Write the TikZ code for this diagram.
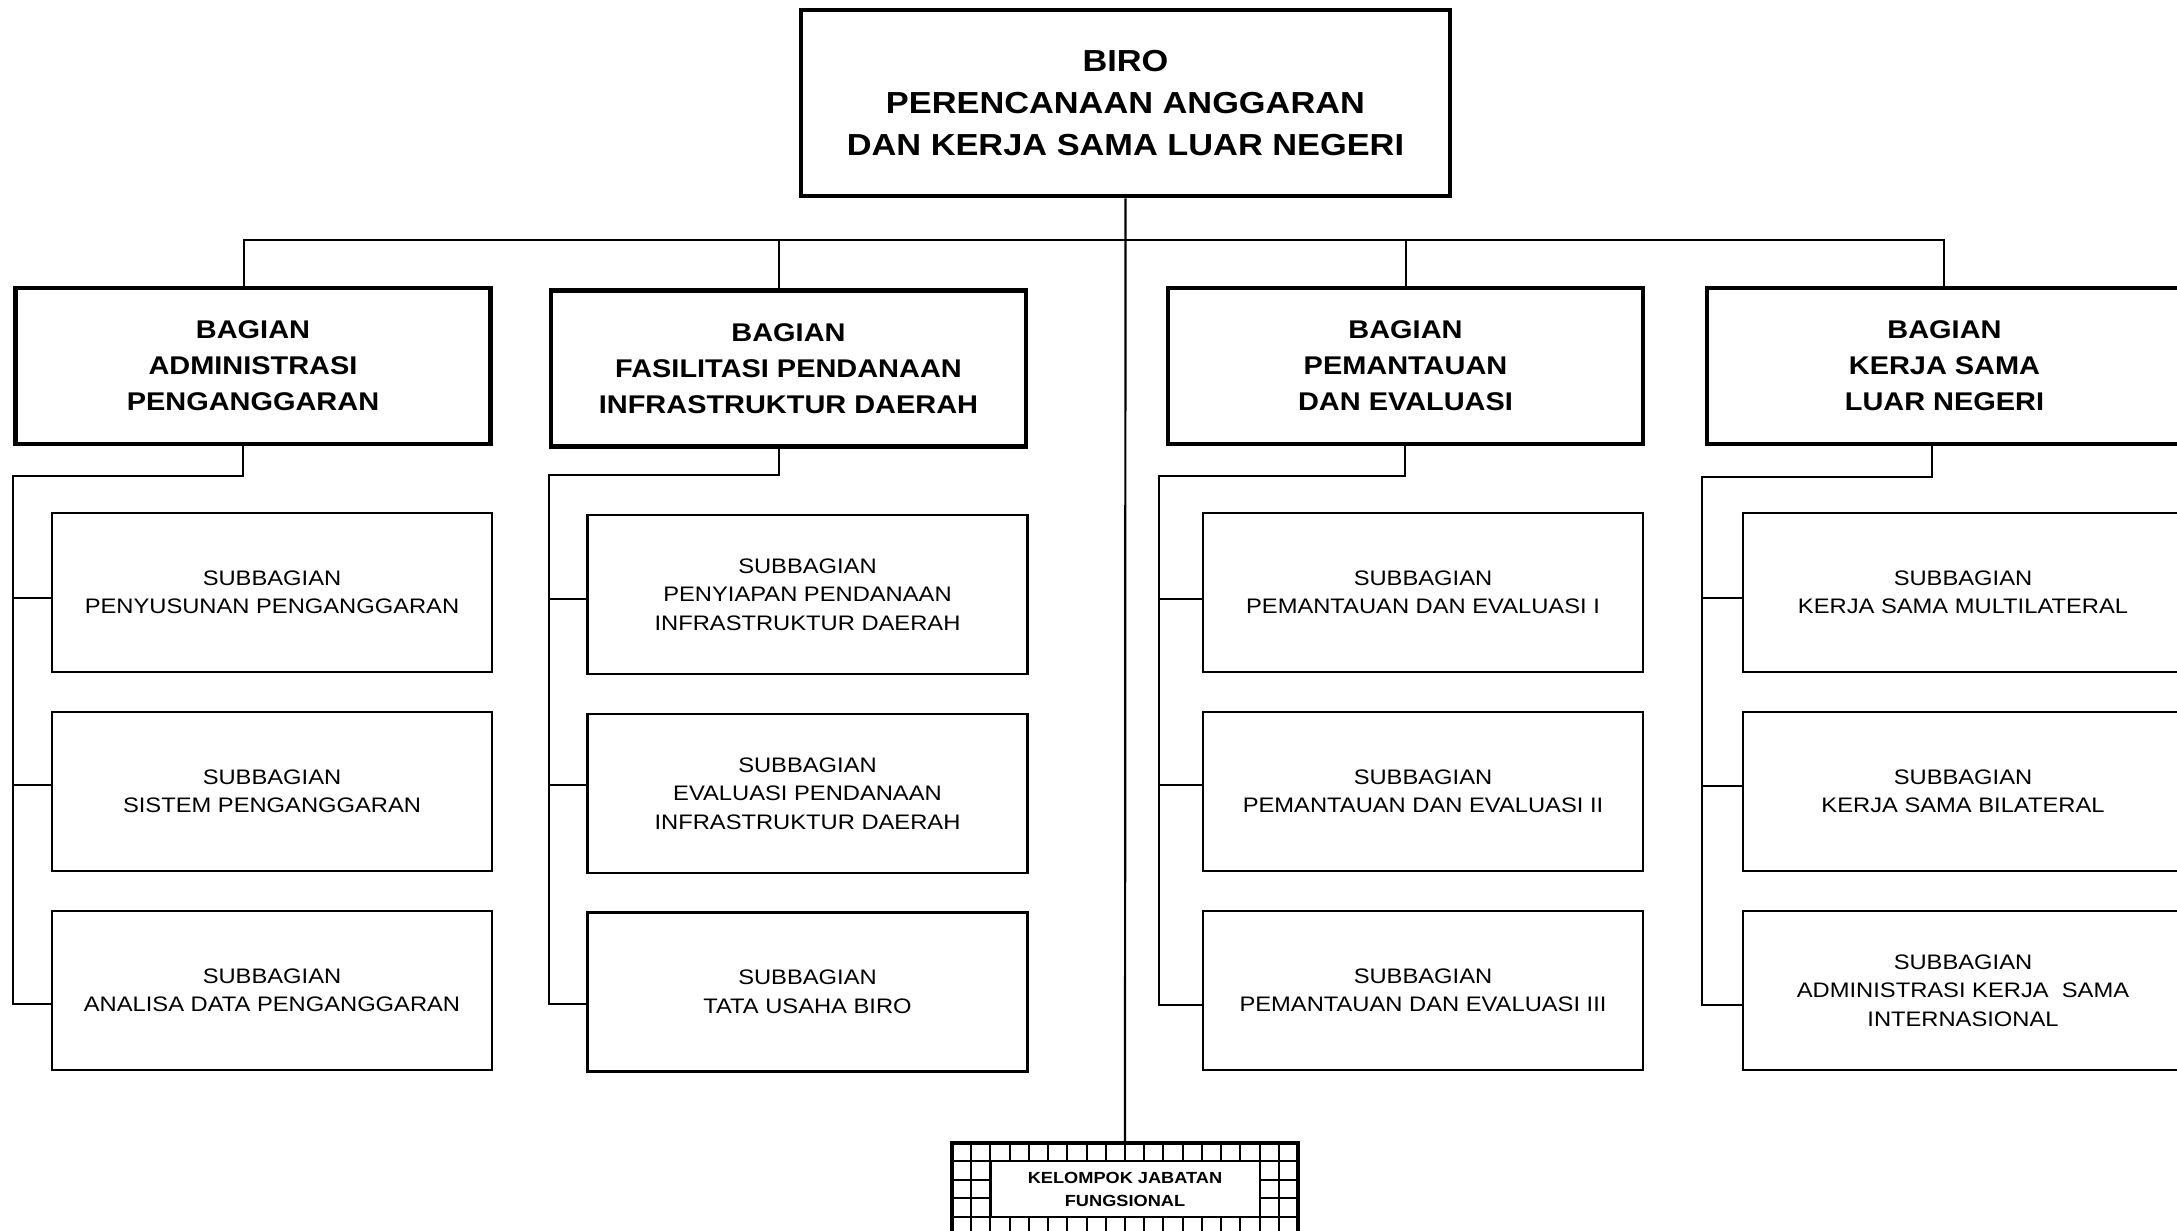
\documentclass[tikz,border=0pt]{standalone}
\usepackage{fontspec}
\setmainfont{Liberation Sans}[FakeStretch=1.13]
\begin{document}
\begin{tikzpicture}[x=1pt,y=-1pt,
  birobox/.style={draw, line width=4.5pt, align=center, inner sep=0pt,
    minimum width=649, minimum height=186,
    font=\fontsize{30.4}{42}\selectfont\bfseries},
  bagbox/.style={draw, line width=4.5pt, align=center, inner sep=0pt,
    minimum width=475, minimum height=156,
    font=\fontsize{25.6}{36}\selectfont\bfseries},
  subbox/.style={draw, line width=2.2pt, align=center, inner sep=0pt,
    minimum width=440, minimum height=159,
    font=\fontsize{21}{28.5}\selectfont},
  link/.style={line width=2.2pt},
  gridline/.style={line width=2pt},
]
\useasboundingbox (0,0) rectangle (2177,1231);
\clip (0,0) rectangle (2177,1231);

% head office
\node[birobox] (biro) at (1125.5,103) {BIRO\\PERENCANAAN ANGGARAN\\DAN KERJA SAMA LUAR NEGERI};

% divisions
\node[bagbox] (b1) at (253,366)    {BAGIAN\\ADMINISTRASI\\PENGANGGARAN};
\node[bagbox] (b2) at (788.5,368.5) {BAGIAN\\FASILITASI PENDANAAN\\INFRASTRUKTUR DAERAH};
\node[bagbox] (b3) at (1405.5,366) {BAGIAN\\PEMANTAUAN\\DAN EVALUASI};
\node[bagbox] (b4) at (1944.5,366) {BAGIAN\\KERJA SAMA\\LUAR NEGERI};

% sub-divisions
\node[subbox] (s11) at (272,592.5) {SUBBAGIAN\\PENYUSUNAN PENGANGGARAN};
\node[subbox] (s12) at (272,791.5) {SUBBAGIAN\\SISTEM PENGANGGARAN};
\node[subbox] (s13) at (272,990.5) {SUBBAGIAN\\ANALISA DATA PENGANGGARAN};

\node[subbox] (s21) at (807.5,594.5) {SUBBAGIAN\\PENYIAPAN PENDANAAN\\INFRASTRUKTUR DAERAH};
\node[subbox] (s22) at (807.5,793.5) {SUBBAGIAN\\EVALUASI PENDANAAN\\INFRASTRUKTUR DAERAH};
\node[subbox] (s23) at (807.5,992) {SUBBAGIAN\\TATA USAHA BIRO};

\node[subbox] (s31) at (1423,592.5) {SUBBAGIAN\\PEMANTAUAN DAN EVALUASI I};
\node[subbox] (s32) at (1423,791.5) {SUBBAGIAN\\PEMANTAUAN DAN EVALUASI II};
\node[subbox] (s33) at (1423,990.5) {SUBBAGIAN\\PEMANTAUAN DAN EVALUASI III};

\node[subbox] (s41) at (1963,592.5) {SUBBAGIAN\\KERJA SAMA MULTILATERAL};
\node[subbox] (s42) at (1963,791.5) {SUBBAGIAN\\KERJA SAMA BILATERAL};
\node[subbox] (s43) at (1963,990.5) {SUBBAGIAN\\ADMINISTRASI KERJA~~SAMA\\INTERNASIONAL};

% functional group: hatched frame with a white label panel
\foreach \i in {1,...,17}
  \draw[gridline] ({952+\i*346/18},1143) -- ++(0,92);
\foreach \j in {1,...,4}
  \draw[gridline] (952,{1143+\j*18.4}) -- ++(346,0);
\node[draw, gridline, fill=white, inner sep=0pt, minimum width=269, minimum height=55.2,
  align=center, font=\fontsize{16.1}{23}\selectfont\bfseries] (kjf) at (1125,1189)
  {KELOMPOK JABATAN\\FUNGSIONAL};
\node[draw, line width=4.5pt, minimum width=346, minimum height=92, inner sep=0pt]
  (kjfo) at (1125,1189) {};

% bus from the head office to the divisions
\coordinate (d1) at (244,240);
\coordinate (d2) at (779,240);
\coordinate (d3) at (1406,240);
\coordinate (d4) at (1944,240);
\draw[link] (b1.north -| d1) -- (d1) -- (d4) -- (b4.north -| d4);
\draw[link] (d2) -- (b2.north -| d2);
\draw[link] (d3) -- (b3.north -| d3);
\draw[link] (biro.south) -- (kjfo.north);

% division to sub-division trees
\coordinate (e1) at (13,476);
\coordinate (e2) at (549,475);
\coordinate (e3) at (1159,476);
\coordinate (e4) at (1702,477);

\draw[link] (b1.south -| 243,0) |- (e1) |- (s13.west |- 0,1004);
\draw[link] (e1 |- 0,598) -- (s11.west |- 0,598);
\draw[link] (e1 |- 0,785) -- (s12.west |- 0,785);

\draw[link] (b2.south -| 779,0) |- (e2) |- (s23.west |- 0,1004);
\draw[link] (e2 |- 0,599) -- (s21.west |- 0,599);
\draw[link] (e2 |- 0,785) -- (s22.west |- 0,785);

\draw[link] (b3.south -| 1405,0) |- (e3) |- (s33.west |- 0,1005);
\draw[link] (e3 |- 0,599) -- (s31.west |- 0,599);
\draw[link] (e3 |- 0,785) -- (s32.west |- 0,785);

\draw[link] (b4.south -| 1932,0) |- (e4) |- (s43.west |- 0,1005);
\draw[link] (e4 |- 0,598) -- (s41.west |- 0,598);
\draw[link] (e4 |- 0,786) -- (s42.west |- 0,786);
\end{tikzpicture}
\end{document}
